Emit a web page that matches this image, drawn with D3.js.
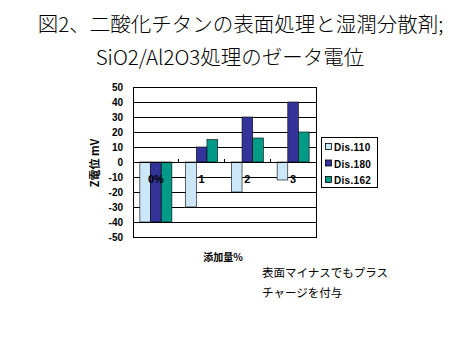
<!DOCTYPE html>
<html><head><meta charset="utf-8">
<script src="https://cdn.jsdelivr.net/npm/d3@7"></script>
<style>body{margin:0;background:#fff}svg{display:block}</style>
</head><body>
<svg id="c" width="473" height="354"></svg>
<script>
const categories = ["0%", "1", "2", "3"];
const seriesNames = ["Dis.110", "Dis.180", "Dis.162"];
const dis110 = [-40, -30, -20, -12];
const dis180 = [-40, 10, 30, 40];
const dis162 = [-40, 15, 16, 20];
const yTicks = [50, 40, 30, 20, 10, 0, -10, -20, -30, -40, -50];
const titleLines = ["図2、二酸化チタンの表面処理と湿潤分散剤;", "SiO2/Al2O3処理のゼータ電位"];
const noteLines = ["表面マイナスでもプラス", "チャージを付与"];
const colors = ["#cce8f8", "#333399", "#009a88"];
const seriesValues = [dis110, dis180, dis162];

const svg = d3.select("#c");
const L = 133, R = 316, T = 87, B = 237;
const y = d3.scaleLinear().domain([-50, 50]).range([B, T]);
const x = d3.scaleBand().domain(categories).range([L, R]);
const xs = d3.scaleBand().domain(seriesNames).range([x.bandwidth() * 0.15, x.bandwidth() * 0.85]);
const cjk = "'Noto Sans CJK JP', sans-serif";
const lat = "'Liberation Sans', Arial, sans-serif";

// title
svg.selectAll("text.title").data(titleLines).join("text")
  .attr("x", (d, i) => i === 0 ? 240.5 : 230).attr("y", (d, i) => 32 + i * 33)
  .attr("text-anchor", "middle").attr("font-family", cjk).attr("font-weight", 300)
  .attr("font-size", 20.5).attr("fill", "#000").text(d => d);

// gridlines
svg.append("g").selectAll("line").data(yTicks).join("line")
  .attr("x1", L).attr("x2", R).attr("y1", d => y(d)).attr("y2", d => y(d))
  .attr("stroke", "#000").attr("stroke-width", 1).attr("shape-rendering", "crispEdges");

// bars
const rows = [];
categories.forEach((c, ci) => seriesNames.forEach((s, si) => rows.push({c, s, si, v: seriesValues[si][ci]})));
svg.append("g").selectAll("rect").data(rows).join("rect")
  .attr("x", d => x(d.c) + xs(d.s)).attr("width", xs.bandwidth())
  .attr("y", d => y(Math.max(0, d.v))).attr("height", d => Math.abs(y(d.v) - y(0)))
  .attr("fill", d => colors[d.si]).attr("stroke", "#000").attr("stroke-width", 0.6);

// zero axis with ticks
svg.append("line").attr("x1", L).attr("x2", R).attr("y1", y(0)).attr("y2", y(0))
  .attr("stroke", "#000").attr("shape-rendering", "crispEdges");
svg.append("g").selectAll("line").data(categories.slice(1)).join("line")
  .attr("x1", d => x(d)).attr("x2", d => x(d)).attr("y1", y(0)).attr("y2", y(0) - 3)
  .attr("stroke", "#000").attr("shape-rendering", "crispEdges");

// category labels
svg.append("g").selectAll("text").data(categories).join("text")
  .attr("x", d => x(d) + x.bandwidth() / 2).attr("y", y(0) + 21)
  .attr("text-anchor", "middle").attr("font-family", lat).attr("font-size", 11)
  .attr("font-weight", "bold").text(d => d);

// plot border
svg.append("rect").attr("x", L).attr("y", T).attr("width", R - L).attr("height", B - T)
  .attr("fill", "none").attr("stroke", "#000").attr("shape-rendering", "crispEdges");

// y axis labels
const yAxis = d3.axisLeft(y).tickValues(yTicks).tickSize(0).tickPadding(10);
const ya = svg.append("g").attr("transform", `translate(${L},0)`).call(yAxis);
ya.select(".domain").remove();
ya.selectAll("text").attr("font-family", lat).attr("font-size", 10).attr("font-weight", "bold").attr("fill", "#000")
  .text(d => String(d).replace("−", "-"));

// y title
svg.append("text").attr("transform", "translate(99,163) rotate(-90)")
  .attr("text-anchor", "middle").attr("font-family", cjk).attr("font-size", 11)
  .attr("font-weight", "bold").text("Z電位 mV");

// x title
svg.append("text").attr("x", 223).attr("y", 261).attr("text-anchor", "middle")
  .attr("font-family", cjk).attr("font-size", 10).attr("font-weight", "bold").text("添加量%");

// legend
const lg = svg.append("g");
lg.append("rect").attr("x", 321.5).attr("y", 137.5).attr("width", 56).attr("height", 50)
  .attr("fill", "#fff").attr("stroke", "#000");
const le = lg.selectAll("g").data(seriesNames).join("g")
  .attr("transform", (d, i) => `translate(325,${147 + i * 16.5})`);
le.append("rect").attr("x", 0.5).attr("y", -3.5).attr("width", 6).attr("height", 6)
  .attr("fill", (d, i) => colors[i]).attr("stroke", "#000").attr("stroke-width", 0.8);
le.append("text").attr("x", 9).attr("y", 4).attr("font-family", lat).attr("font-size", 10)
  .attr("font-weight", "bold").attr("letter-spacing", 0.3).text(d => d);

// note
svg.selectAll("text.note").data(noteLines).join("text")
  .attr("x", 262).attr("y", (d, i) => 277 + i * 20)
  .attr("font-family", cjk).attr("font-size", 11.5).attr("fill", "#000").text(d => d);
</script>
</body></html>
